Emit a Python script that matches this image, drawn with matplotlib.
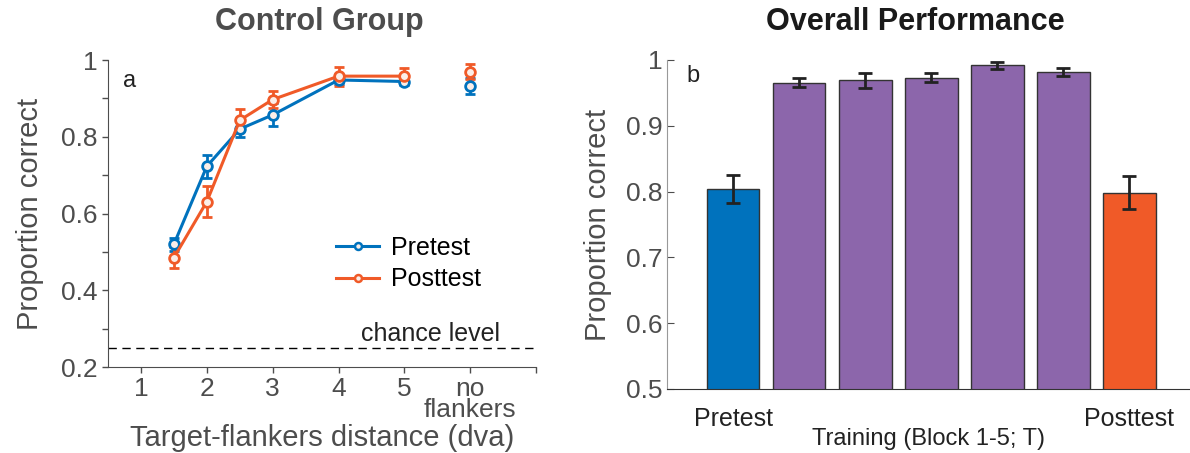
import numpy as np
import matplotlib.pyplot as plt
from matplotlib.lines import Line2D

plt.rcParams['font.family'] = ['Liberation Sans', 'DejaVu Sans']

# panel a: control group, proportion correct by target-flanker distance
dist = [1.5, 2, 2.5, 3, 4, 5]
pre_mean = [0.520, 0.723, 0.820, 0.857, 0.948, 0.944]
pre_err = [0.017, 0.030, 0.020, 0.030, 0.010, 0.008]
post_mean = [0.485, 0.631, 0.843, 0.897, 0.958, 0.958]
post_err = [0.027, 0.041, 0.029, 0.023, 0.025, 0.020]
noflank_x = 6
noflank_pre = [0.932, 0.020]
noflank_post = [0.970, 0.020]
chance = 0.25
xtick_labels = ['1', '2', '3', '4', '5', 'no\nflankers', '']

# panel b: overall performance
bar_labels = ['Pretest', 'B1', 'B2', 'B3', 'B4', 'B5', 'Posttest']
bar_vals = [0.804, 0.9655, 0.969, 0.973, 0.992, 0.982, 0.798]
bar_err = [0.021, 0.0065, 0.011, 0.007, 0.005, 0.0065, 0.025]

BLUE = '#0072BD'
ORANGE = '#F05A28'
PURPLE = '#8C66AB'
GREY = '#4d4d4d'
FACE = '#fbeee8'

fig = plt.figure(figsize=(11.9, 4.53), dpi=100)

# ---- panel a
ax1 = fig.add_axes([0.0908, 0.1898, 0.3597, 0.6777])
for m, e, c in [(pre_mean, pre_err, BLUE), (post_mean, post_err, ORANGE)]:
    ax1.errorbar(dist, m, yerr=e, color=c, lw=2.2, marker='o', ms=7,
                 mfc=FACE, mec=c, mew=2, capsize=3.5, elinewidth=2,
                 capthick=2)
for v, c in [(noflank_pre, BLUE), (noflank_post, ORANGE)]:
    ax1.errorbar(noflank_x, v[0], yerr=v[1], color=c, marker='o', ms=7,
                 mfc=FACE, mec=c, mew=2, capsize=3.5, elinewidth=2,
                 capthick=2, ls='none')
ax1.axhline(chance, color='k', lw=1, ls=(0, (6, 4)))
ax1.text(6.45, chance + 0.006, 'chance level', ha='right', va='bottom',
         fontsize=18, color='#222222')
ax1.text(0.72, 0.945, 'a', fontsize=17, va='center', color='#222222')

handles = [Line2D([], [], color=BLUE, lw=2.2, marker='o', ms=5, mfc=FACE,
                  mec=BLUE, mew=1.8),
           Line2D([], [], color=ORANGE, lw=2.2, marker='o', ms=5, mfc=FACE,
                  mec=ORANGE, mew=1.8)]
ax1.legend(handles, ['Pretest', 'Posttest'], loc='upper left',
           bbox_to_anchor=(0.51, 0.46), frameon=False, fontsize=18,
           handlelength=1.7, handletextpad=0.5, labelspacing=0.3,
           borderaxespad=0)

ax1.set_xlim(0.5, 7)
ax1.set_ylim(0.2, 1.0)
ax1.set_xticks(range(1, 8))
ax1.set_xticklabels(xtick_labels)
for lbl in ax1.get_xticklabels()[5:]:
    lbl.set_fontsize(16)
    lbl.set_linespacing(0.8)
ax1.set_yticks(np.arange(0.2, 1.01, 0.1))
ax1.set_yticklabels(['0.2', '', '0.4', '', '0.6', '', '0.8', '', '1'])
ax1.tick_params(direction='out', length=4, colors=GREY, labelsize=19,
                width=1)
ax1.spines['top'].set_visible(False)
ax1.spines['right'].set_visible(False)
for s in ['left', 'bottom']:
    ax1.spines[s].set_color(GREY)
ax1.set_xlabel('Target-flankers distance (dva)', fontsize=21, color=GREY,
               labelpad=2)
ax1.set_ylabel('Proportion correct', fontsize=21, color=GREY, labelpad=12)

# ---- panel b
ax2 = fig.add_axes([0.5605, 0.1413, 0.4395, 0.7263])
xb = np.arange(1, len(bar_vals) + 1)
colors = [BLUE] + [PURPLE] * 5 + [ORANGE]
ax2.bar(xb, bar_vals, width=0.8, color=colors, edgecolor='#333333', lw=1,
        yerr=bar_err, capsize=5,
        error_kw=dict(ecolor='#222222', elinewidth=2, capthick=2))
ax2.text(0.3, 0.975, 'b', fontsize=17, va='center', color='#222222')
ax2.set_xlim(0, 7.92)
ax2.set_ylim(0.5, 1.0)
ax2.set_xticks([1, 7])
ax2.set_xticklabels([bar_labels[0], bar_labels[-1]])
ax2.tick_params(axis='x', length=0, labelsize=18, colors='#222222', pad=13)
ax2.set_yticks(np.arange(0.5, 1.01, 0.1))
ax2.set_yticklabels(['0.5', '0.6', '0.7', '0.8', '0.9', '1'])
ax2.tick_params(axis='y', direction='in', length=5, colors=GREY,
                labelsize=19)
ax2.spines['top'].set_visible(False)
ax2.spines['right'].set_visible(False)
ax2.spines['left'].set_color('#999999')
ax2.spines['bottom'].set_color('#333333')
ax2.set_xlabel('Training (Block 1-5; T)', fontsize=17, color='#222222',
               labelpad=-2)
ax2.set_ylabel('Proportion correct', fontsize=21, color=GREY, labelpad=10)

fig.text(319 / 1190, 1 - 22 / 453, 'Control Group', fontsize=22,
         fontweight='bold', color=GREY, ha='center', va='center')
fig.text(915 / 1190, 1 - 22 / 453, 'Overall Performance', fontsize=22,
         fontweight='bold', color='#1a1a1a', ha='center', va='center')

fig.savefig('out.png', dpi=100)
